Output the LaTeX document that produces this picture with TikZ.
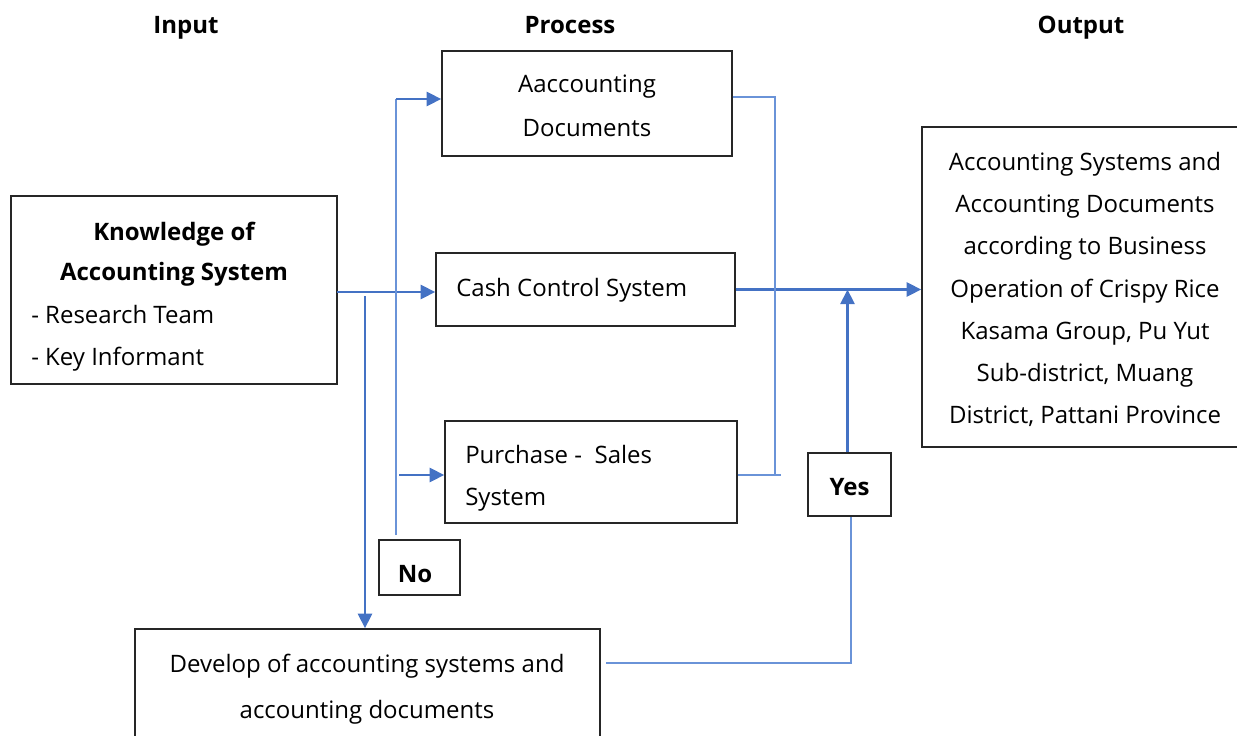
\documentclass[tikz,border=0pt]{standalone}
\usepackage{fontspec}
\setmainfont{Open Sans}
\usetikzlibrary{arrows.meta}
\definecolor{linkblue}{HTML}{4472C4}
\definecolor{thinblue}{HTML}{6A93D8}
\begin{document}
\begin{tikzpicture}[x=0.75pt,y=-0.75pt,
  every node/.style={font=\fontsize{18}{31.5}\selectfont},
  box/.style={draw=black!85, line width=1.1pt, inner sep=0pt},
  label text/.style={inner sep=0pt, anchor=base},
  bold text/.style={inner sep=0pt, anchor=base, font=\fontsize{18}{31.5}\selectfont\bfseries},
  left text/.style={inner sep=0pt, anchor=base west},
  flow/.style={draw=linkblue, line width=2.2pt, -{Triangle[length=11pt,width=10.5pt]}},
  feed/.style={draw=thinblue, line width=1pt},
]
\useasboundingbox (0,0) rectangle (1237,735);

% column headings
\node[bold text] (hin)  at (186,34)  {Input};
\node[bold text] (hpro) at (570,34)  {Process};
\node[bold text] (hout) at (1081,34) {Output};

% boxes
\node[box, minimum width=244.5pt, minimum height=141pt]   (know) at (174,290)    {};
\node[box, minimum width=217.5pt, minimum height=78.75pt] (acc)  at (587,103.5)  {};
\node[box, minimum width=224.25pt, minimum height=54.75pt] (cash) at (585.5,289.5) {};
\node[box, minimum width=219pt, minimum height=76.5pt]    (pur)  at (591,472)    {};
\node[box, minimum width=238.5pt, minimum height=240pt]   (out)  at (1081,287)   {};
\node[box, minimum width=62.25pt, minimum height=47.25pt] (yes)  at (849.5,484.5) {};
\node[box, minimum width=60.75pt, minimum height=41.25pt] (no)   at (419.5,567.5) {};
\node[box, minimum width=348.75pt, minimum height=87pt]   (dev)  at (367.5,687)  {};

% box texts
\node[bold text] (k1) at (174,240) {Knowledge of};
\node[bold text] (k2) at (174,280) {Accounting System};
\node[left text] (k3) at (31,323) {- Research Team};
\node[left text] (k4) at (31,365) {- Key Informant};

\node[label text] (a1) at (587,93)  {Aaccounting};
\node[label text] (a2) at (587,136) {Documents};

\node[left text] (c1) at (456,296) {Cash Control System};

\node[left text] (p1) at (465,463) {Purchase -\ \ Sales};
\node[left text] (p2) at (465,505) {System};

\node[label text] (o1) at (1085,170) {Accounting Systems and};
\node[label text] (o2) at (1085,212) {Accounting Documents};
\node[label text] (o3) at (1085,254) {according to Business};
\node[label text] (o4) at (1085,297) {Operation of Crispy Rice};
\node[label text] (o5) at (1085,339) {Kasama Group, Pu Yut};
\node[label text] (o6) at (1085,381) {Sub-district, Muang};
\node[label text] (o7) at (1085,423) {District, Pattani Province};

\node[bold text] (yt) at (849.5,495) {Yes};
\node[bold text] (nt) at (415,582) {No};

\node[label text] (d1) at (367,672) {Develop of accounting systems and};
\node[label text] (d2) at (367,718) {accounting documents};

% turning points of the connectors
\coordinate (split)   at (365,296);
\coordinate (nobase)  at (396,535);
\coordinate (notop)   at (396,99);
\coordinate (pstart)  at (399,475);
\coordinate (brktop)  at (775,97);
\coordinate (brkbot)  at (775,475);
\coordinate (brkend)  at (781,475);
\coordinate (retturn) at (851,663);
\coordinate (kout)    at (337,292);

% main flow
\draw[flow] (kout) -- (kout -| cash.west);
\draw[flow] (split) -- (split |- dev.north);
\draw[flow] (cash.east) -- (out.west |- cash.east);
\draw[flow] ([xshift=-1.5pt]yes.north) -- ([xshift=-1.5pt]yes.north |- cash.east);

% "No" branch back to the process boxes
\draw[feed] (nobase) -- (notop);
\draw[flow] (notop) -- (notop -| acc.west);
\draw[flow] (pstart) -- (pstart -| pur.west);

% bracket joining the process boxes
\draw[feed] (brktop -| acc.east) -- (brktop) -- (brkbot);
\draw[feed] (brkend -| pur.east) -- (brkend);

% developed system returns through "Yes"
\draw[feed] ([xshift=4pt]retturn -| dev.east) -- (retturn) -- (retturn |- yes.south);
\end{tikzpicture}
\end{document}
